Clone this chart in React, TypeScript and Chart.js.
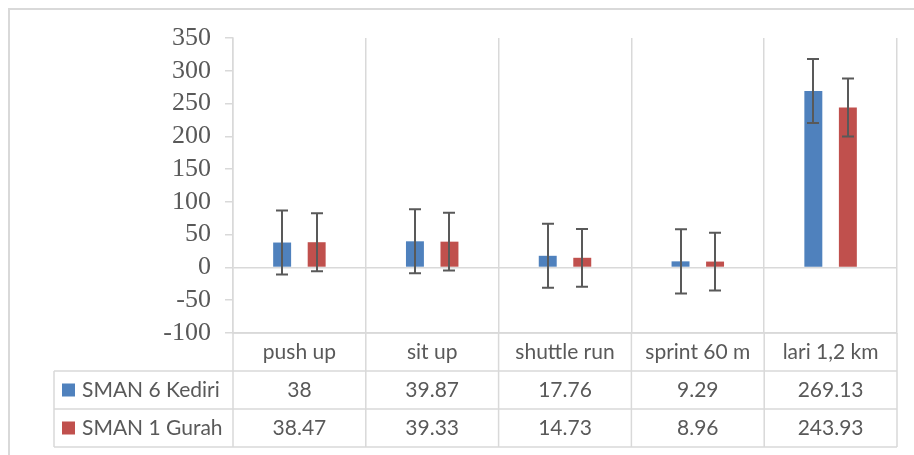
import React, { useEffect, useRef } from "react";
import { Chart, registerables } from "chart.js";

Chart.register(...registerables);

const categories = ["push up", "sit up", "shuttle run", "sprint 60 m", "lari 1,2 km"];
const seriesNames = ["SMAN 6 Kediri", "SMAN 1 Gurah"];
const kediri = [38, 39.87, 17.76, 9.29, 269.13];
const gurah = [38.47, 39.33, 14.73, 8.96, 243.93];
const kediriErr = [48.9, 48.9, 48.9, 48.9, 48.9];
const gurahErr = [44.1, 44.1, 44.1, 44.1, 44.1];
const colors = ["#4F81BD", "#C0504D"];
const yMin = -100;
const yMax = 350;
const yStep = 50;

const seriesValues = [kediri, gurah];
const seriesErrors = [kediriErr, gurahErr];

const GRID = "#D9D9D9";
const TEXT = "#595959";

const errorBarPlugin = {
  id: "errorBars",
  afterDatasetsDraw(chart: any) {
    const ctx = chart.ctx;
    const yScale = chart.scales.y;
    ctx.save();
    ctx.strokeStyle = "#595959";
    ctx.lineWidth = 2;
    chart.data.datasets.forEach((ds: any, di: number) => {
      const meta = chart.getDatasetMeta(di);
      meta.data.forEach((el: any, i: number) => {
        const v = seriesValues[di][i];
        const e = seriesErrors[di][i];
        const x = Math.round(el.x);
        const yT = yScale.getPixelForValue(v + e);
        const yB = yScale.getPixelForValue(v - e);
        ctx.beginPath();
        ctx.moveTo(x, yT);
        ctx.lineTo(x, yB);
        ctx.moveTo(x - 6, yT);
        ctx.lineTo(x + 6, yT);
        ctx.moveTo(x - 6, yB);
        ctx.lineTo(x + 6, yB);
        ctx.stroke();
      });
    });
    ctx.restore();
  },
};

const framePlugin = {
  id: "frame",
  beforeDraw(chart: any) {
    const ctx = chart.ctx;
    ctx.save();
    ctx.strokeStyle = GRID;
    ctx.lineWidth = 2;
    ctx.beginPath();
    ctx.moveTo(9, chart.height + 5);
    ctx.lineTo(9, 9);
    ctx.lineTo(chart.width + 5, 9);
    ctx.stroke();
    ctx.restore();
  },
};

const tablePlugin = {
  id: "dataTable",
  afterDraw(chart: any) {
    const ctx = chart.ctx;
    const xs = chart.scales.x;
    const area = chart.chartArea;
    const n = categories.length;
    const cw = (area.right - area.left) / n;
    const rowH = 38;
    const top = area.bottom;
    const legendLeft = 54;
    ctx.save();
    ctx.strokeStyle = GRID;
    ctx.lineWidth = 1.5;
    ctx.beginPath();
    for (let b = 0; b <= n; b++) {
      const x = area.left + b * cw;
      ctx.moveTo(x, top);
      ctx.lineTo(x, top + rowH * 3);
    }
    ctx.moveTo(area.left, top);
    ctx.lineTo(area.right, top);
    for (let r = 1; r <= 3; r++) {
      ctx.moveTo(legendLeft, top + rowH * r);
      ctx.lineTo(area.right, top + rowH * r);
    }
    ctx.moveTo(legendLeft, top + rowH);
    ctx.lineTo(legendLeft, top + rowH * 3);
    ctx.stroke();

    ctx.fillStyle = TEXT;
    ctx.font = "21px Lato";
    ctx.textAlign = "center";
    ctx.textBaseline = "middle";
    categories.forEach((c, i) => {
      const cx = xs.getPixelForValue(i);
      ctx.fillText(c, cx, top + rowH * 0.5);
      seriesValues.forEach((vals, s) => {
        ctx.fillText(String(vals[i]), cx, top + rowH * (s + 1.5));
      });
    });
    ctx.textAlign = "left";
    seriesNames.forEach((name, s) => {
      const cy = top + rowH * (s + 1.5);
      ctx.fillStyle = colors[s];
      ctx.fillRect(62, cy - 6.5, 13, 13);
      ctx.fillStyle = TEXT;
      ctx.fillText(name, 82, cy);
    });
    ctx.restore();
  },
};

export default function App() {
  const ref = useRef<HTMLCanvasElement | null>(null);
  useEffect(() => {
    if (!ref.current) return;
    const chart = new Chart(ref.current, {
      type: "bar",
      data: {
        labels: categories,
        datasets: seriesNames.map((name, s) => ({
          label: name,
          data: seriesValues[s],
          backgroundColor: colors[s],
          borderWidth: 0,
          categoryPercentage: 0.52,
          barPercentage: 0.52,
        })),
      },
      options: {
        responsive: false,
        animation: false,
        devicePixelRatio: 1,
        layout: { padding: { left: 0, top: 38, right: 17, bottom: 122 } },
        plugins: {
          legend: { display: false },
          tooltip: { enabled: false },
          title: { display: false },
        },
        scales: {
          x: {
            ticks: { display: false },
            grid: { color: GRID, lineWidth: 1.5, drawTicks: false, offset: true },
            border: { display: true, color: GRID, width: 1.5 },
          },
          y: {
            min: yMin,
            max: yMax,
            ticks: {
              stepSize: yStep,
              autoSkip: false,
              color: TEXT,
              font: { family: "'Liberation Serif'", size: 26 },
              padding: 14,
            },
            grid: {
              color: (c: any) => (c.tick && c.tick.value === 0 ? GRID : "rgba(0,0,0,0)"),
              tickColor: GRID,
              tickLength: 8,
              lineWidth: 1.5,
              drawTicks: true,
            },
            border: { display: true, color: GRID, width: 1.5 },
            afterFit: (scale: any) => {
              scale.width = 233;
            },
          },
        },
      },
      plugins: [framePlugin, errorBarPlugin, tablePlugin],
    });
    return () => chart.destroy();
  }, []);
  return (
    <div style={{ position: "fixed", left: 0, top: 0, width: 914, height: 455, background: "#fff" }}>
      <canvas ref={ref} width={914} height={455} style={{ display: "block", width: 914, height: 455 }} />
    </div>
  );
}
